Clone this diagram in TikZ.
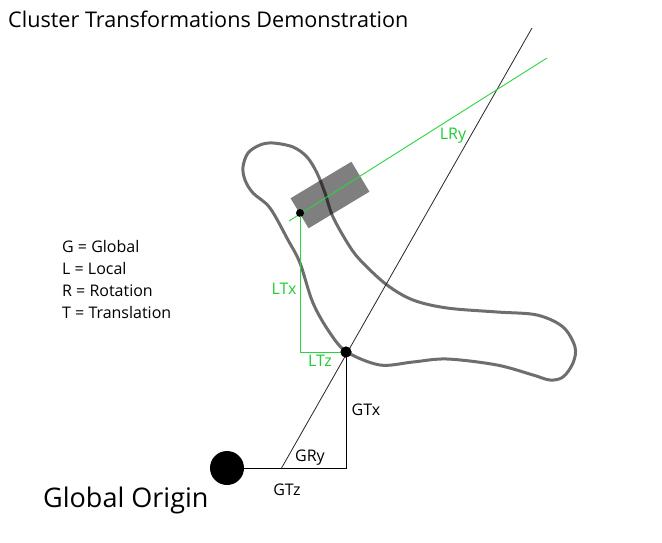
\documentclass[tikz,border=0pt]{standalone}
\usepackage{fontspec}
\setmainfont{Open Sans}
\begin{document}
\begin{tikzpicture}[x=1pt,y=-1pt,
  track/.style={draw={rgb,255:red,110;green,110;blue,110},line width=3pt,line join=round},
  gline/.style={draw={rgb,255:red,40;green,215;blue,60},line width=0.9pt},
  bline/.style={draw=black,line width=1pt},
  lbl/.style={inner sep=0pt,font=\fontsize{16}{19}\selectfont},
  glbl/.style={lbl,text={rgb,255:red,30;green,205;blue,50}},
  leg/.style={anchor=base west,inner sep=0pt,font=\fontsize{16}{19}\selectfont},
  dot/.style={circle,fill=black,inner sep=0pt}]
\useasboundingbox (0,0) rectangle (662,543);
% track
\draw[track] plot[smooth cycle,tension=0.55] coordinates {
 (243,167) (248,153) (260,145) (273,143) (293,147) (307,157) (317,173) (325,193) (333,217) (350,247)
 (363,263) (387,285) (413,300) (447,308) (497,312) (537,315) (563,327) (575,347) (573,363) (563,377)
 (550,380) (533,375) (497,365) (447,359) (413,362) (380,365) (347,352) (330,333) (313,303) (300,263)
 (288,240) (270,208) (253,193) (245,180)};
% car
\fill[black,opacity=0.5,rotate around={31:(330,195)}] (294.5,177.5) rectangle (365.5,212.5);
% lines
\coordinate (d1) at (281,469);
\coordinate (d2) at (532,28);
\draw[black!85,line width=0.8pt] (d1) -- (d2);
\coordinate (g1) at (289,221);
\coordinate (g2) at (547,58);
\draw[gline] (g1) -- (g2);
% nodes
\node[dot,minimum size=34pt] (origin) at (227,468) {};
\node[dot,minimum size=11pt] (car) at (346,352) {};
\node[dot,minimum size=8pt] (local) at (300,213) {};
\coordinate (gc) at (346,468);
\coordinate (lc) at (300,352);
\draw[bline] (origin.east) -- (gc) -- (car.center);
\draw[gline] (local.center) -- (lc) -- (car.center);
\node[dot,minimum size=11pt] at (car) {};
\node[dot,minimum size=6pt] at (local) {};
% labels
\node[anchor=base west,inner sep=0pt,font=\fontsize{21.6}{25}\selectfont] (title) at (8,28) {Cluster Transformations Demonstration};
\node[anchor=base west,inner sep=0pt,font=\fontsize{27}{30}\selectfont] (gorig) at (43,507) {Global Origin};
\node[leg] (l1) at (62,252) {G = Global};
\node[leg] (l2) at (62,274) {L = Local};
\node[leg] (l3) at (62,296) {R = Rotation};
\node[leg] (l4) at (62,318) {T = Translation};
\node[lbl] (gtx) at (366,410) {GTx};
\node[lbl] (gtz) at (287,490) {GTz};
\node[lbl] (gry) at (310,458) {GRy};
\node[glbl] (ltx) at (284,289) {LTx};
\node[glbl] (ltz) at (320,361) {LTz};
\node[glbl] (lry) at (453,136) {LRy};
\end{tikzpicture}
\end{document}
